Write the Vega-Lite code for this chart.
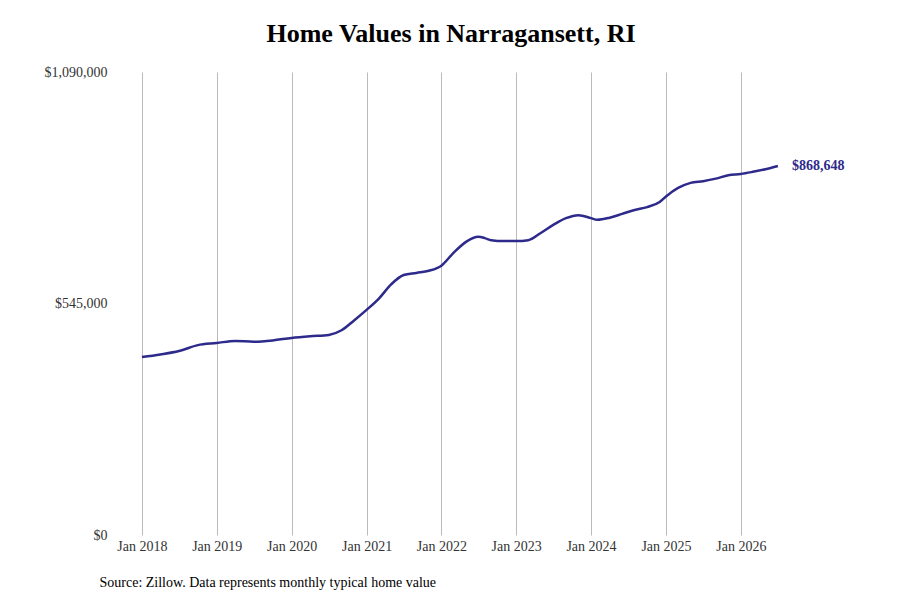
{
  "$schema": "https://vega.github.io/schema/vega-lite/v6.json",
  "width": 678,
  "height": 463,
  "autosize": "none",
  "padding": {"left": 112, "top": 72, "right": 110, "bottom": 65},
  "background": "white",
  "title": {"text": "Home Values in Narragansett, RI", "font": "Liberation Serif", "fontSize": 26, "fontWeight": "bold", "color": "black", "offset": 18},
  "config": {"view": {"stroke": null}, "font": "Liberation Serif"},
  "data": {
    "values": [
      {"date": "2018-01-01", "value": 419000},
      {"date": "2018-04-01", "value": 425000},
      {"date": "2018-07-01", "value": 433000},
      {"date": "2018-10-01", "value": 447000},
      {"date": "2019-01-01", "value": 452000},
      {"date": "2019-04-01", "value": 457000},
      {"date": "2019-07-01", "value": 455000},
      {"date": "2019-10-01", "value": 458000},
      {"date": "2020-01-01", "value": 464000},
      {"date": "2020-04-01", "value": 468000},
      {"date": "2020-07-01", "value": 471000},
      {"date": "2020-09-01", "value": 482000},
      {"date": "2020-11-01", "value": 505000},
      {"date": "2021-01-01", "value": 530000},
      {"date": "2021-03-01", "value": 556000},
      {"date": "2021-05-01", "value": 590000},
      {"date": "2021-07-01", "value": 612000},
      {"date": "2021-09-01", "value": 617000},
      {"date": "2021-11-01", "value": 622000},
      {"date": "2022-01-01", "value": 634000},
      {"date": "2022-03-01", "value": 664000},
      {"date": "2022-05-01", "value": 690000},
      {"date": "2022-07-01", "value": 702000},
      {"date": "2022-08-01", "value": 699000},
      {"date": "2022-09-01", "value": 694000},
      {"date": "2022-11-01", "value": 692000},
      {"date": "2023-01-01", "value": 692000},
      {"date": "2023-03-01", "value": 694000},
      {"date": "2023-05-01", "value": 711000},
      {"date": "2023-07-01", "value": 730000},
      {"date": "2023-09-01", "value": 746000},
      {"date": "2023-11-01", "value": 753000},
      {"date": "2024-01-01", "value": 746000},
      {"date": "2024-02-01", "value": 742000},
      {"date": "2024-04-01", "value": 747000},
      {"date": "2024-06-01", "value": 756000},
      {"date": "2024-08-01", "value": 765000},
      {"date": "2024-10-01", "value": 772000},
      {"date": "2024-12-01", "value": 784000},
      {"date": "2025-01-01", "value": 797000},
      {"date": "2025-03-01", "value": 817000},
      {"date": "2025-05-01", "value": 829000},
      {"date": "2025-07-01", "value": 833000},
      {"date": "2025-09-01", "value": 839000},
      {"date": "2025-11-01", "value": 847000},
      {"date": "2026-01-01", "value": 850000},
      {"date": "2026-03-01", "value": 855000},
      {"date": "2026-05-01", "value": 861000},
      {"date": "2026-07-01", "value": 868648}
    ]
  },
  "encoding": {
    "x": {
      "field": "date", "type": "temporal",
      "scale": {"domain": ["2017-08-08", "2026-08-29"]},
      "axis": {
        "format": "%b %Y", "tickCount": {"interval": "year", "step": 1},
        "grid": true, "gridColor": "#bbbbbb", "gridWidth": 1,
        "domain": false, "ticks": false, "labelFontSize": 14, "labelColor": "#333333", "labelPadding": 4,
        "title": "Source: Zillow. Data represents monthly typical home value",
        "titleFontSize": 14, "titleFontWeight": "normal", "titleColor": "black",
        "titleAnchor": "start", "titleAlign": "left", "titleX": -13, "titleY": 47, "titleBaseline": "middle"
      }
    },
    "y": {
      "field": "value", "type": "quantitative",
      "scale": {"domain": [0, 1090000]},
      "axis": {"values": [0, 545000, 1090000], "format": "$,.0f", "grid": false, "domain": false, "ticks": false,
        "labelFontSize": 14, "labelColor": "#333333", "labelPadding": 5, "title": null}
    }
  },
  "layer": [
    {"mark": {"type": "line", "color": "#2e2a8c", "strokeWidth": 2.5, "interpolate": "monotone"}},
    {
      "transform": [{"filter": "datum.value == 868648"}],
      "mark": {"type": "text", "align": "left", "dx": 14, "fontSize": 14, "fontWeight": "bold", "color": "#2e2a8c"},
      "encoding": {"text": {"field": "value", "type": "quantitative", "format": "$,.0f"}}
    }
  ]
}
